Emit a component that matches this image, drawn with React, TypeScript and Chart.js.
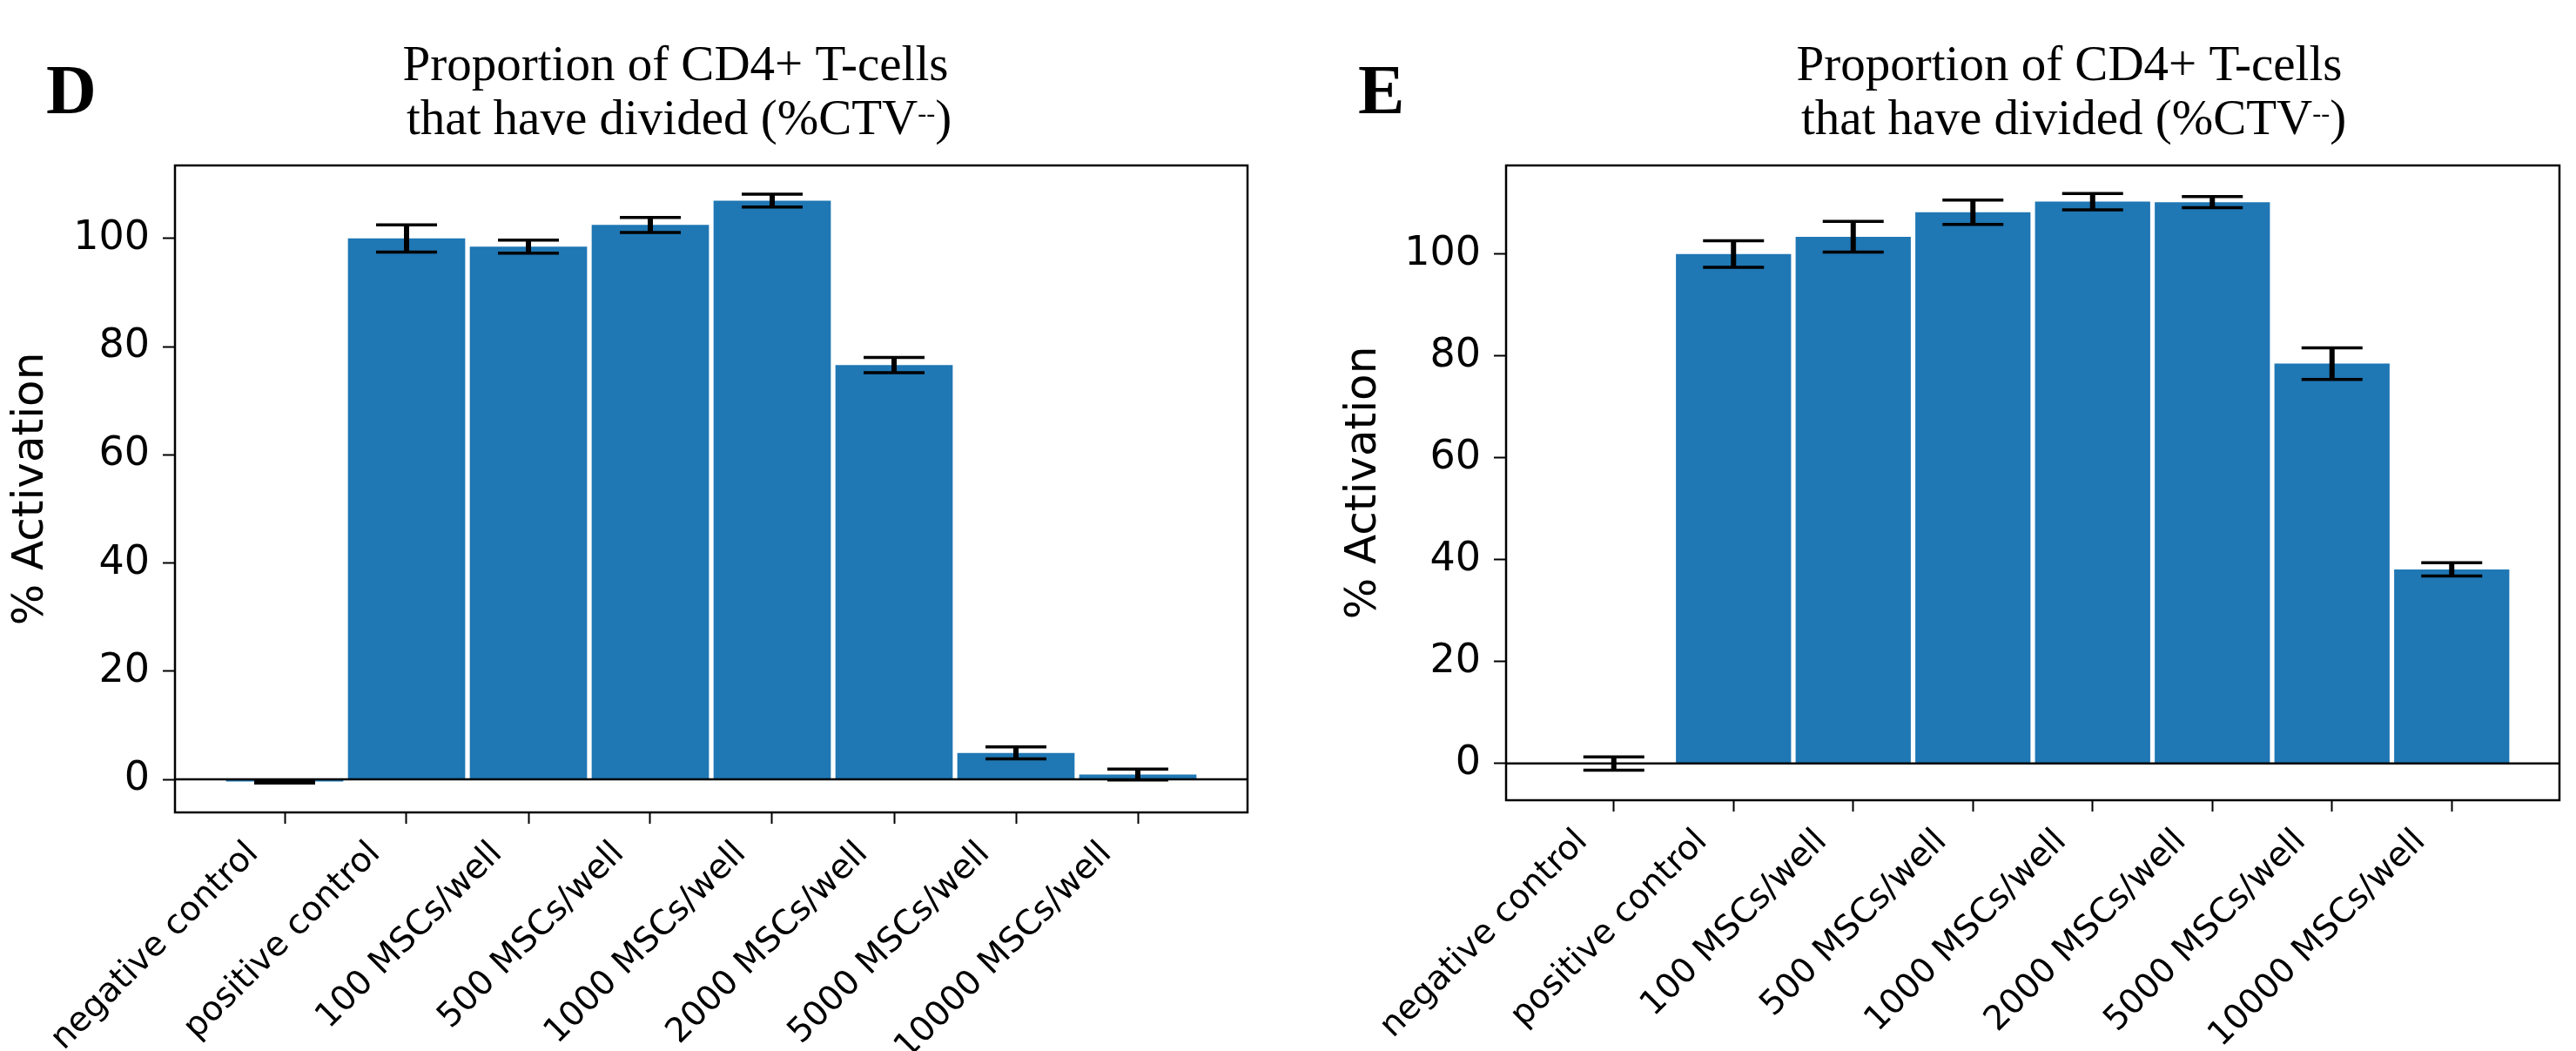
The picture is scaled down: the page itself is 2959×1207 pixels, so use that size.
import React, { useEffect, useRef } from "react";
import { Chart, registerables } from "chart.js";

Chart.register(...registerables);

// ---------- data ----------
const categories = [
  "negative control",
  "positive control",
  "100 MSCs/well",
  "500 MSCs/well",
  "1000 MSCs/well",
  "2000 MSCs/well",
  "5000 MSCs/well",
  "10000 MSCs/well",
];
const valuesD = [-0.4, 100.0, 98.5, 102.5, 107.0, 76.6, 4.9, 0.9];
const errorsD = [0.25, 2.5, 1.2, 1.4, 1.2, 1.4, 1.1, 1.0];
const valuesE = [0.0, 100.0, 103.4, 108.2, 110.3, 110.2, 78.5, 38.1];
const errorsE = [1.3, 2.6, 3.0, 2.4, 1.6, 1.1, 3.1, 1.3];
const yTicks = [0, 20, 40, 60, 80, 100];
const titleLine1 = "Proportion of CD4+ T-cells";
const titleLine2 = "that have divided (%CTV";
const titleSup = "--";
const titleEnd = ")";
const yAxisTitle = "% Activation";

const BAR_COLOR = "#1f77b4";
const H = 1207;

type PanelCfg = {
  letter: string;
  values: number[];
  errors: number[];
  yMin: number;
  yMax: number;
  width: number;
  left: number;
  right: number;
  top: number;
  bottom: number;
  letterX: number;
  t1X: number;
  t2X: number;
  yTitlePad: number;
};

const panelD: PanelCfg = {
  letter: "D",
  values: valuesD,
  errors: errorsD,
  yMin: -6.1,
  yMax: 113.5,
  width: 1480,
  left: 201,
  right: 1433,
  top: 190,
  bottom: 933,
  letterX: 53,
  t1X: 776,
  t2X: 780,
  yTitlePad: 6,
};

const panelE: PanelCfg = {
  letter: "E",
  values: valuesE,
  errors: errorsE,
  yMin: -7.2,
  yMax: 117.4,
  width: 1479,
  left: 250,
  right: 1460,
  top: 190,
  bottom: 919,
  letterX: 80,
  t1X: 897,
  t2X: 902,
  yTitlePad: 57,
};

function Panel({ cfg, offsetX }: { cfg: PanelCfg; offsetX: number }) {
  const ref = useRef<HTMLCanvasElement | null>(null);

  useEffect(() => {
    const canvas = ref.current;
    if (!canvas) return;

    const decor = {
      id: "decor",
      afterDatasetsDraw(chart: any) {
        const { ctx, chartArea: a } = chart;
        const xs = chart.scales.x;
        const ys = chart.scales.y;
        ctx.save();
        ctx.strokeStyle = "#000";
        // zero line
        const y0 = ys.getPixelForValue(0);
        ctx.lineWidth = 2.5;
        ctx.beginPath();
        ctx.moveTo(a.left, y0);
        ctx.lineTo(a.right, y0);
        ctx.stroke();
        // error bars
        cfg.values.forEach((v, i) => {
          const px = xs.getPixelForValue(i);
          const t = ys.getPixelForValue(v + cfg.errors[i]);
          const b = ys.getPixelForValue(v - cfg.errors[i]);
          ctx.lineWidth = 6;
          ctx.beginPath();
          ctx.moveTo(px, t);
          ctx.lineTo(px, b);
          ctx.stroke();
          ctx.lineWidth = 3.5;
          ctx.beginPath();
          ctx.moveTo(px - 35, t);
          ctx.lineTo(px + 35, t);
          ctx.moveTo(px - 35, b);
          ctx.lineTo(px + 35, b);
          ctx.stroke();
        });
        // frame
        ctx.lineWidth = 2.5;
        ctx.strokeRect(a.left, a.top, a.right - a.left, a.bottom - a.top);
        ctx.restore();
      },
      afterDraw(chart: any) {
        const { ctx } = chart;
        ctx.save();
        ctx.fillStyle = "#000";
        ctx.textBaseline = "alphabetic";
        // panel letter
        ctx.font = "bold 80px 'Liberation Serif'";
        ctx.textAlign = "left";
        ctx.fillText(cfg.letter, cfg.letterX, 130);
        // title line 1
        ctx.font = "57px 'Liberation Serif'";
        ctx.textAlign = "center";
        ctx.fillText(titleLine1, cfg.t1X, 92);
        // title line 2 with superscript
        ctx.textAlign = "left";
        const supFont = "30px 'Liberation Serif'";
        ctx.font = "57px 'Liberation Serif'";
        const w1 = ctx.measureText(titleLine2).width;
        const w3 = ctx.measureText(titleEnd).width;
        ctx.font = supFont;
        const w2 = ctx.measureText(titleSup).width;
        let x = cfg.t2X - (w1 + w2 + w3) / 2;
        ctx.font = "57px 'Liberation Serif'";
        ctx.fillText(titleLine2, x, 154);
        x += w1;
        ctx.font = supFont;
        ctx.fillText(titleSup, x, 154 - 14);
        x += w2;
        ctx.font = "57px 'Liberation Serif'";
        ctx.fillText(titleEnd, x, 154);
        ctx.restore();
      },
    };

    const chart = new Chart(canvas, {
      type: "bar",
      data: {
        datasets: [
          {
            data: cfg.values.map((v, i) => ({ x: i, y: v })),
            backgroundColor: BAR_COLOR,
            borderWidth: 0,
            categoryPercentage: 1,
            barPercentage: 0.962,
          },
        ],
      },
      options: {
        responsive: false,
        animation: false,
        devicePixelRatio: 1,
        layout: {
          padding: { top: cfg.top, right: cfg.width - cfg.right, bottom: 0, left: 0 },
        },
        plugins: {
          legend: { display: false },
          tooltip: { enabled: false },
          title: { display: false },
        },
        scales: {
          x: {
            type: "linear",
            min: -0.9,
            max: 7.9,
            offset: false,
            border: { display: false },
            grid: {
              offset: false,
              drawOnChartArea: false,
              drawTicks: true,
              tickLength: 13,
              tickColor: "#000",
              tickWidth: 2,
            },
            ticks: {
              autoSkip: false,
              minRotation: 45,
              maxRotation: 45,
              padding: 12,
              labelOffset: -36,
              color: "#000",
              font: { family: "'DejaVu Sans'", size: 39 },
              callback: (v: any) => categories[Math.round(Number(v))] ?? "",
            },
            afterBuildTicks: (s: any) => {
              s.ticks = categories.map((_, i) => ({ value: i }));
            },
            afterFit: (s: any) => {
              s.height = H - cfg.bottom;
              s.paddingLeft = 0;
              s.paddingRight = 0;
            },
          },
          y: {
            type: "linear",
            min: cfg.yMin,
            max: cfg.yMax,
            border: { display: false },
            grid: {
              drawOnChartArea: false,
              drawTicks: true,
              tickLength: 14,
              tickColor: "#000",
              tickWidth: 2,
            },
            ticks: {
              padding: 15,
              color: "#000",
              font: { family: "'DejaVu Sans'", size: 46 },
            },
            afterBuildTicks: (s: any) => {
              s.ticks = yTicks.map((v) => ({ value: v }));
            },
            afterFit: (s: any) => {
              s.width = cfg.left;
              s.paddingTop = 0;
              s.paddingBottom = 0;
            },
            title: {
              display: true,
              text: yAxisTitle,
              color: "#000",
              font: { family: "'DejaVu Sans'", size: 50 },
              padding: { top: cfg.yTitlePad, bottom: 0 },
            },
          },
        },
      },
      plugins: [decor],
    } as any);

    return () => chart.destroy();
  }, [cfg]);

  return (
    <canvas
      ref={ref}
      width={cfg.width}
      height={H}
      style={{ position: "absolute", left: offsetX, top: 0, width: cfg.width, height: H }}
    />
  );
}

export default function App() {
  return (
    <div
      style={{
        position: "absolute",
        left: 0,
        top: 0,
        width: 2959,
        height: H,
        background: "#fff",
        overflow: "hidden",
      }}
    >
      <Panel cfg={panelD} offsetX={0} />
      <Panel cfg={panelE} offsetX={1480} />
    </div>
  );
}
